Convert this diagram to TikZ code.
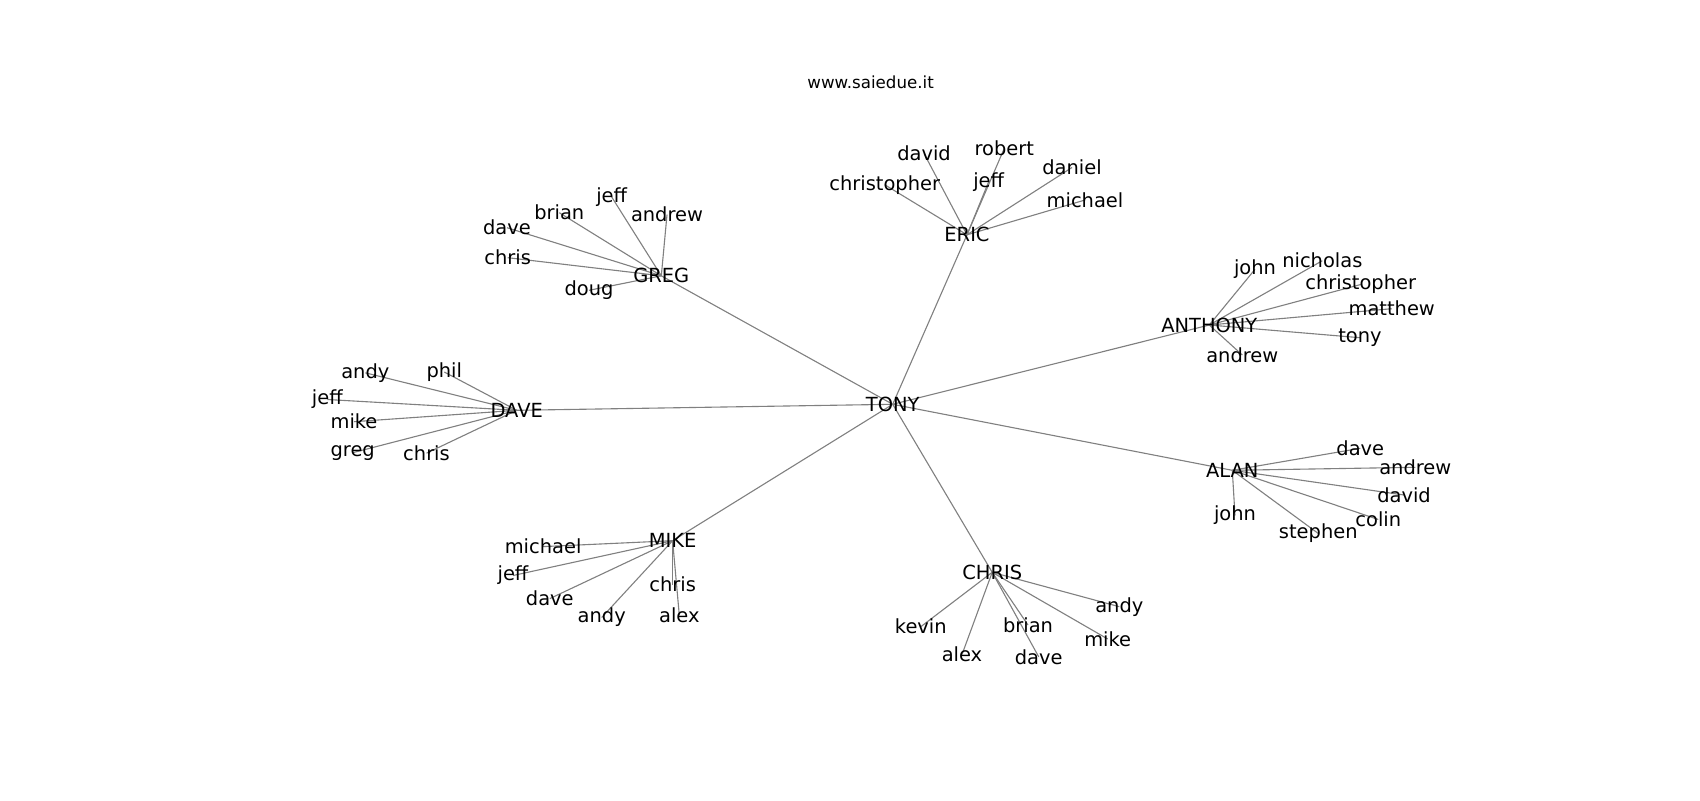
\documentclass[tikz,border=0pt]{standalone}
\usepackage{fontspec}
\setmainfont{DejaVu Sans}
\usetikzlibrary{backgrounds}
\tikzset{
  lbl/.style={inner sep=0pt, font=\fontsize{14}{16}\selectfont, text=black},
  ttl/.style={inner sep=0pt, font=\fontsize{12}{14}\selectfont, text=black},
  edge/.style={draw=black!50, line width=0.8pt}
}
\begin{document}
\begin{tikzpicture}[x=0.72pt, y=-0.72pt]
\useasboundingbox (0,0) rectangle (1700,800);
\node[ttl] (title) at (870.6,82.5) {www.saiedue.it};
% hubs
\node[lbl] (tony) at (892.7,404.3) {TONY};
\node[lbl] (greg) at (661.3,275.8) {GREG};
\node[lbl] (dave) at (516.7,410.3) {DAVE};
\node[lbl] (eric) at (967,234.8) {ERIC};
\node[lbl] (anthony) at (1209.3,325) {ANTHONY};
\node[lbl] (alan) at (1232.3,470.3) {ALAN};
\node[lbl] (chris) at (992.2,572.3) {CHRIS};
\node[lbl] (mike) at (672.6,540.7) {MIKE};
% GREG leaves
\node[lbl] (g1) at (611.7,197) {jeff};
\node[lbl] (g2) at (559.3,212.7) {brian};
\node[lbl] (g3) at (667,214.7) {andrew};
\node[lbl] (g4) at (507,227.7) {dave};
\node[lbl] (g5) at (507.7,257.7) {chris};
\node[lbl] (g6) at (589,290.3) {doug};
% DAVE leaves
\node[lbl] (d1) at (365.3,372.8) {andy};
\node[lbl] (d2) at (444.3,372) {phil};
\node[lbl] (d3) at (327.3,399.5) {jeff};
\node[lbl] (d4) at (354,421.7) {mike};
\node[lbl] (d5) at (352.7,452.7) {greg};
\node[lbl] (d6) at (426.5,453.2) {chris};
% ERIC leaves
\node[lbl] (e1) at (924,153.5) {david};
\node[lbl] (e2) at (1004.3,148.3) {robert};
\node[lbl] (e3) at (884.7,184.7) {christopher};
\node[lbl] (e4) at (988.7,181.7) {jeff};
\node[lbl] (e5) at (1072,167.5) {daniel};
\node[lbl] (e6) at (1085,200) {michael};
% ANTHONY leaves
\node[lbl] (an1) at (1255,269.3) {john};
\node[lbl] (an2) at (1322.3,260.7) {nicholas};
\node[lbl] (an3) at (1360.7,284.5) {christopher};
\node[lbl] (an4) at (1391.7,308.7) {matthew};
\node[lbl] (an5) at (1360,337.7) {tony};
\node[lbl] (an6) at (1242.3,355) {andrew};
% ALAN leaves
\node[lbl] (al1) at (1360.3,448.3) {dave};
\node[lbl] (al2) at (1415.3,467.3) {andrew};
\node[lbl] (al3) at (1404,495) {david};
\node[lbl] (al4) at (1378.3,519.5) {colin};
\node[lbl] (al5) at (1235,515.5) {john};
\node[lbl] (al6) at (1318.3,533.5) {stephen};
% CHRIS leaves
\node[lbl] (c1) at (920.8,626.7) {kevin};
\node[lbl] (c2) at (962,654.5) {alex};
\node[lbl] (c3) at (1028,625) {brian};
\node[lbl] (c4) at (1038.7,656.8) {dave};
\node[lbl] (c5) at (1107.7,639) {mike};
\node[lbl] (c6) at (1119.3,606.7) {andy};
% MIKE leaves
\node[lbl] (m1) at (543.1,546.6) {michael};
\node[lbl] (m2) at (513,575.5) {jeff};
\node[lbl] (m3) at (549.8,598.6) {dave};
\node[lbl] (m4) at (601.7,617.5) {andy};
\node[lbl] (m5) at (672.6,584.7) {chris};
\node[lbl] (m6) at (679.3,615.2) {alex};
\begin{scope}[on background layer]
\foreach \h in {greg,dave,eric,anthony,alan,chris,mike}
  \draw[edge] (tony.center) -- (\h.center);
\foreach \l in {g1,g2,g3,g4,g5,g6}
  \draw[edge] (greg.center) -- (\l.center);
\foreach \l in {d1,d2,d3,d4,d5,d6}
  \draw[edge] (dave.center) -- (\l.center);
\foreach \l in {e1,e2,e3,e4,e5,e6}
  \draw[edge] (eric.center) -- (\l.center);
\foreach \l in {an1,an2,an3,an4,an5,an6}
  \draw[edge] (anthony.center) -- (\l.center);
\foreach \l in {al1,al2,al3,al4,al5,al6}
  \draw[edge] (alan.center) -- (\l.center);
\foreach \l in {c1,c2,c3,c4,c5,c6}
  \draw[edge] (chris.center) -- (\l.center);
\foreach \l in {m1,m2,m3,m4,m5,m6}
  \draw[edge] (mike.center) -- (\l.center);
\end{scope}
\end{tikzpicture}
\end{document}
